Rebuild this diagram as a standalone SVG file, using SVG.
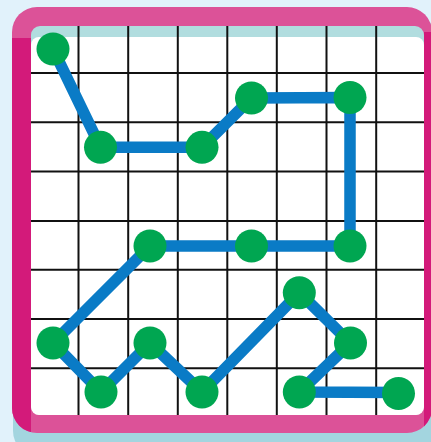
<svg xmlns="http://www.w3.org/2000/svg" width="431" height="442" viewBox="0 0 431 442">
  <defs>
    <style>
      .grid line { stroke: #111; stroke-width: 2; }
      .conn { fill: none; stroke: #0A7BC6; stroke-width: 11.5; stroke-linecap: round; stroke-linejoin: round; }
      .dot { fill: #00A651; }
    </style>
    <clipPath id="outer">
      <rect x="12" y="7" width="420" height="426" rx="25" ry="25"/>
    </clipPath>
    <clipPath id="inner">
      <rect x="31" y="26" width="393" height="389" rx="9" ry="9"/>
    </clipPath>
  </defs>

  <!-- background -->
  <rect x="0" y="0" width="431" height="442" fill="#E1F2FB"/>

  <!-- frame -->
  <g id="frame">
    <rect x="13" y="16" width="425" height="440" rx="25" ry="25" fill="#A3D5DF"/>
    <rect x="12" y="7" width="420" height="426" rx="25" ry="25" fill="#DC5298"/>
    <g clip-path="url(#outer)">
      <rect x="12" y="38" width="19" height="400" fill="#D31A7A"/>
      <rect x="424" y="32" width="10" height="410" fill="#D31A7A"/>
    </g>
    <rect x="31" y="26" width="393" height="389" rx="9" ry="9" fill="#B1DDDF"/>
    <rect x="31" y="37" width="393" height="378" rx="8" ry="8" fill="#FFFFFF"/>
  </g>

  <!-- grid -->
  <g id="grid" class="grid" clip-path="url(#inner)">
    <line x1="78.5" y1="26" x2="78.5" y2="415"/>
    <line x1="128.2" y1="26" x2="128.2" y2="415"/>
    <line x1="177.8" y1="26" x2="177.8" y2="415"/>
    <line x1="227.3" y1="26" x2="227.3" y2="415"/>
    <line x1="276.8" y1="26" x2="276.8" y2="415"/>
    <line x1="326.5" y1="26" x2="326.5" y2="415"/>
    <line x1="376.2" y1="26" x2="376.2" y2="415"/>
    <line x1="31" y1="72.9" x2="424" y2="72.9"/>
    <line x1="31" y1="122.3" x2="424" y2="122.3"/>
    <line x1="31" y1="171.6" x2="424" y2="171.6"/>
    <line x1="31" y1="221" x2="424" y2="221"/>
    <line x1="31" y1="269.8" x2="424" y2="269.8"/>
    <line x1="31" y1="319" x2="424" y2="319"/>
    <line x1="31" y1="368.2" x2="424" y2="368.2"/>
  </g>

  <!-- connectors -->
  <g id="connectors">
    <polyline class="conn" points="53,49 100.5,147.3 202,147.3 251.5,98 350,97.5 350,246 251.5,246 150,246 53,343 101,392 150,343 202,392 299.3,292.7 350.5,343 299.3,392 398.5,392.5"/>
  </g>

  <!-- nodes -->
  <g id="p1"><circle class="dot" cx="53" cy="49" r="16.5"/></g>
  <g id="p2"><circle class="dot" cx="100.5" cy="147.3" r="16.5"/></g>
  <g id="p3"><circle class="dot" cx="202" cy="147.3" r="16.5"/></g>
  <g id="p4"><circle class="dot" cx="251.5" cy="98" r="16.5"/></g>
  <g id="p5"><circle class="dot" cx="350" cy="97.5" r="16.5"/></g>
  <g id="p6"><circle class="dot" cx="350" cy="246" r="16.5"/></g>
  <g id="p7"><circle class="dot" cx="251.5" cy="246" r="16.5"/></g>
  <g id="p8"><circle class="dot" cx="150" cy="246" r="16.5"/></g>
  <g id="p9"><circle class="dot" cx="53" cy="343" r="16.5"/></g>
  <g id="p10"><circle class="dot" cx="101" cy="392" r="16.5"/></g>
  <g id="p11"><circle class="dot" cx="150" cy="343" r="16.5"/></g>
  <g id="p12"><circle class="dot" cx="202" cy="392" r="16.5"/></g>
  <g id="p13"><circle class="dot" cx="299.3" cy="292.7" r="16.5"/></g>
  <g id="p14"><circle class="dot" cx="350.5" cy="343" r="16.5"/></g>
  <g id="p15"><circle class="dot" cx="299.3" cy="392" r="16.5"/></g>
  <g id="p16"><circle class="dot" cx="398.5" cy="393.5" r="16.5"/></g>
</svg>
